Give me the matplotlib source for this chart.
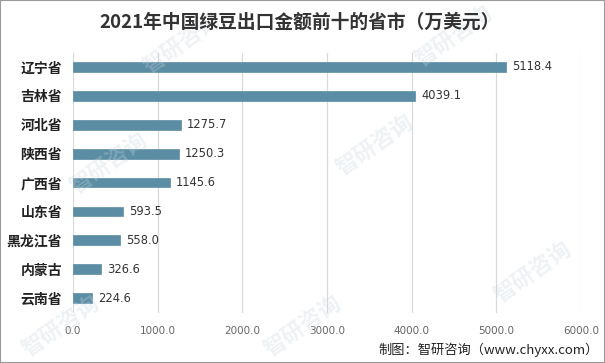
import matplotlib
matplotlib.use('Agg')
import matplotlib.pyplot as plt
from matplotlib.patches import Rectangle

plt.rcParams['font.family'] = ['Noto Sans CJK SC', 'DejaVu Sans']

# 数据
provinces = ['辽宁省', '吉林省', '河北省', '陕西省', '广西省', '山东省', '黑龙江省', '内蒙古', '云南省']
values = [5118.4, 4039.1, 1275.7, 1250.3, 1145.6, 593.5, 558.0, 326.6, 224.6]
xticks = [0, 1000, 2000, 3000, 4000, 5000, 6000]

bar_color = '#5b8da4'

fig = plt.figure(figsize=(6.05, 3.63), dpi=100)
ax = fig.add_axes([0.1207, 0.139, 0.8397, 0.7163])

y = list(range(len(provinces)))
ax.barh(y, values, height=0.34, color=bar_color, edgecolor=bar_color,
        linewidth=0.5, zorder=3)

for yi, v in zip(y, values):
    ax.text(v + 70, yi, f'{v:.1f}', va='center', ha='left', fontsize=8.3,
            color='#333333', family='DejaVu Sans', zorder=4)

ax.set_xlim(0, 6000)
ax.set_ylim(len(provinces) - 0.5, -0.5)
ax.set_xticks(xticks)
ax.set_xticklabels([f'{t:.1f}' for t in xticks], fontsize=7.5, color='#666666',
                   family='DejaVu Sans')
ax.set_yticks(y)
ax.set_yticklabels(provinces, fontsize=10, fontweight='bold', color='#222222')
ax.tick_params(axis='both', length=0, pad=10)
ax.tick_params(axis='y', pad=8)
ax.grid(axis='x', color='#d9d9d9', linewidth=0.9, zorder=0)
for s in ax.spines.values():
    s.set_visible(False)

fig.text(0.495, 0.94, '2021年中国绿豆出口金额前十的省市（万美元）', ha='center', va='center',
         fontsize=13.5, fontweight='bold', color='#333333')
fig.text(0.99, 0.035, '制图：智研咨询（www.chyxx.com）', ha='right', va='center',
         fontsize=9.5, color='#222222')

# 水印
for (wx, wy) in [(0.3, 0.88), (0.75, 0.9), (0.18, 0.55), (0.62, 0.6), (0.1, 0.1), (0.5, 0.1), (0.88, 0.25)]:
    fig.text(wx, wy, '智研咨询', rotation=35, fontsize=16, fontweight='bold',
             color='#c8d4e0', alpha=0.3, ha='center', va='center', zorder=0)

fig.patches.append(Rectangle((0, 0), 1, 1, transform=fig.transFigure, fill=False,
                             edgecolor='#999999', linewidth=1.5))

fig.savefig('out.png', dpi=100)
